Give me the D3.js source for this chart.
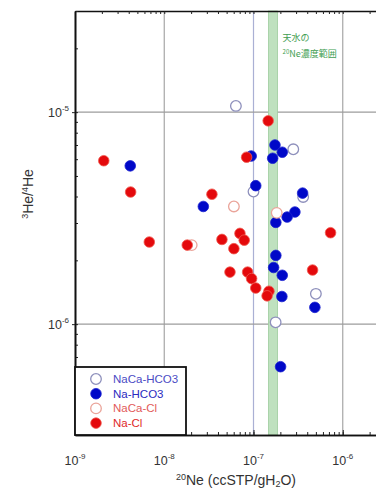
<!DOCTYPE html>
<html>
<head>
<meta charset="utf-8">
<script src="https://cdn.jsdelivr.net/npm/d3@7"></script>
<style>
  html, body { margin: 0; padding: 0; background: #fff; }
  svg { display: block; font-family: "Liberation Sans", Arial, sans-serif; }
</style>
</head>
<body>
<div id="container"></div>
<script>
// data: [20Ne (ccSTP/gH2O), 3He/4He]
const naCaHco3 = [
    [6.35e-8, 1.07e-5], [2.79e-7, 6.68e-6], [1.0e-7, 4.22e-6],
    [3.6e-7, 3.98e-6], [5.0e-7, 1.39e-6], [1.77e-7, 1.02e-6]
];
const naHco3 = [
    [4.16e-9, 5.58e-6], [2.74e-8, 3.59e-6], [1.06e-7, 4.5e-6],
    [1.74e-7, 7.0e-6], [2.1e-7, 6.47e-6], [1.64e-7, 6.06e-6],
    [9.42e-8, 6.21e-6], [3.55e-7, 4.15e-6], [2.91e-7, 3.38e-6],
    [2.38e-7, 3.2e-6], [1.78e-7, 3.02e-6], [1.78e-7, 2.11e-6],
    [1.68e-7, 1.85e-6], [2.1e-7, 1.7e-6], [2.08e-7, 1.35e-6],
    [4.87e-7, 1.2e-6], [2.01e-7, 6.3e-7]
];
const naCaCl = [
    [6.03e-8, 3.59e-6], [1.82e-7, 3.35e-6], [2.03e-8, 2.36e-6]
];
const naCl = [
    [2.1e-9, 5.9e-6], [4.2e-9, 4.2e-6], [6.8e-9, 2.44e-6],
    [1.81e-8, 2.36e-6], [3.42e-8, 4.1e-6], [4.43e-8, 2.51e-6],
    [7.05e-8, 2.68e-6], [7.87e-8, 2.49e-6], [6.03e-8, 2.27e-6],
    [5.45e-8, 1.76e-6], [8.59e-8, 1.76e-6], [9.52e-8, 1.64e-6],
    [1.06e-7, 1.48e-6], [1.49e-7, 1.43e-6], [1.42e-7, 1.36e-6],
    [1.46e-7, 9.1e-6], [8.37e-8, 6.13e-6], [4.59e-7, 1.8e-6],
    [7.3e-7, 2.7e-6]
];

const seriesNames = ['NaCa-HCO3', 'Na-HCO3', 'NaCa-Cl', 'Na-Cl'];
const xTickValues = [1e-9, 1e-8, 1e-7, 1e-6];
const xTickExponents = ['-9', '-8', '-7', '-6'];
const yTickValues = [1e-6, 1e-5];
const yTickExponents = ['-6', '-5'];
const rainWaterNe = [1.47e-7, 1.86e-7];   // 天水の20Ne濃度範囲

const width = 376, height = 488;
const margin = { left: 75, top: 11, bottom: 435, right: 432 };

const styles = [
    { fill: '#fff', stroke: '#8e90bc', text: '#4b4bc4', sw: 1.3 },
    { fill: '#0008c8', stroke: '#1a22d0', text: '#2a2ac0', sw: 0.8 },
    { fill: '#fff', stroke: '#eaa49a', text: '#e25a5a', sw: 1.3 },
    { fill: '#e4090c', stroke: '#f05a50', text: '#e02a2a', sw: 0.8 }
];

const svg = d3.select('#container').append('svg')
    .attr('width', width)
    .attr('height', height);

const x = d3.scaleLog().domain([1e-9, 1e-5]).range([margin.left, margin.right]);
const y = d3.scaleLog().domain([3e-5, 3e-7]).range([margin.top, margin.bottom]);

/* gridlines */
const grid = svg.append('g').attr('class', 'grid');
grid.selectAll('.vgrid')
    .data(xTickValues.slice(1))
    .enter().append('line')
    .attr('x1', (d) => x(d)).attr('x2', (d) => x(d))
    .attr('y1', margin.top).attr('y2', margin.bottom)
    .attr('stroke', (d) => d === 1e-7 ? '#aab0d4' : '#a6a6a6')
    .attr('stroke-width', 1.2);
grid.selectAll('.hgrid')
    .data(yTickValues)
    .enter().append('line')
    .attr('x1', margin.left).attr('x2', margin.right)
    .attr('y1', (d) => y(d)).attr('y2', (d) => y(d))
    .attr('stroke', '#9c9c9c')
    .attr('stroke-width', 1.2);

/* rain water band */
svg.append('rect')
    .attr('x', x(rainWaterNe[0]))
    .attr('width', x(rainWaterNe[1]) - x(rainWaterNe[0]))
    .attr('y', margin.top)
    .attr('height', margin.bottom - margin.top)
    .attr('fill', '#bfe1bf')
    .attr('stroke', '#9fcd9f')
    .attr('stroke-width', 0.8);

const bandLabel = svg.append('g')
    .attr('fill', '#3f9e52')
    .attr('font-family', '"Noto Sans CJK JP", sans-serif')
    .attr('font-size', 9);
bandLabel.append('text')
    .attr('x', x(rainWaterNe[1]) + 5)
    .attr('y', 41)
    .text('天水の');
const bl2 = bandLabel.append('text')
    .attr('x', x(rainWaterNe[1]) + 5)
    .attr('y', 57);
bl2.append('tspan').attr('font-size', 6).attr('dy', -3).text('20');
bl2.append('tspan').attr('dy', 3).text('Ne濃度範囲');

/* axes */
const minorX = x.ticks().filter((d) => d <= 1e-5);
const minorY = y.ticks();

const axes = svg.append('g').attr('class', 'axes').attr('stroke', '#111');
axes.append('g')
    .attr('transform', `translate(0,${margin.top})`)
    .call(d3.axisTop(x).tickValues(minorX).tickSizeInner(-3).tickSizeOuter(0).tickFormat(''));
axes.append('g')
    .attr('transform', `translate(0,${margin.bottom})`)
    .call(d3.axisBottom(x).tickValues(minorX).tickSizeInner(-3).tickSizeOuter(0).tickFormat(''));
axes.append('g')
    .attr('transform', `translate(0,${margin.bottom})`)
    .call(d3.axisBottom(x).tickValues(xTickValues).tickSizeInner(-5).tickSizeOuter(0).tickFormat(''));
axes.append('g')
    .attr('transform', `translate(${margin.left},0)`)
    .call(d3.axisLeft(y).tickValues(minorY).tickSizeInner(-3).tickSizeOuter(0).tickFormat(''));
axes.append('g')
    .attr('transform', `translate(${margin.left},0)`)
    .call(d3.axisLeft(y).tickValues(yTickValues).tickSizeInner(3).tickSizeOuter(0).tickFormat(''));
axes.selectAll('.domain').attr('stroke', '#111').attr('stroke-width', 1.6);
axes.selectAll('.tick line').attr('stroke', '#222').attr('stroke-width', 1);

/* tick labels */
const labels = svg.append('g').attr('fill', '#333').attr('font-size', 12.5);
xTickValues.forEach((v, i) => {
    const t = labels.append('text')
        .attr('x', x(v))
        .attr('y', 465)
        .attr('text-anchor', 'middle');
    t.append('tspan').text('10');
    t.append('tspan').attr('font-size', 8).attr('dy', -6).text(xTickExponents[i]);
});
yTickValues.forEach((v, i) => {
    const t = labels.append('text')
        .attr('x', 69)
        .attr('y', y(v) + 5)
        .attr('text-anchor', 'end');
    t.append('tspan').text('10');
    t.append('tspan').attr('font-size', 8).attr('dy', -6).text(yTickExponents[i]);
});

/* axis titles */
const xTitle = svg.append('text')
    .attr('x', 236)
    .attr('y', 485)
    .attr('text-anchor', 'middle')
    .attr('fill', '#333')
    .attr('font-size', 14);
xTitle.append('tspan').attr('font-size', 9).attr('dy', -5).text('20');
xTitle.append('tspan').attr('dy', 5).text('Ne (ccSTP/gH');
xTitle.append('tspan').attr('font-size', 9).attr('dy', 2).text('2');
xTitle.append('tspan').attr('dy', -2).text('O)');

const yTitle = svg.append('text')
    .attr('transform', 'translate(33,194) rotate(-90)')
    .attr('text-anchor', 'middle')
    .attr('fill', '#333')
    .attr('font-size', 14);
yTitle.append('tspan').attr('font-size', 9).attr('dy', -5).text('3');
yTitle.append('tspan').attr('dy', 5).text('He/');
yTitle.append('tspan').attr('font-size', 9).attr('dy', -5).text('4');
yTitle.append('tspan').attr('dy', 5).text('He');

/* points */
const allSeries = [naCaHco3, naHco3, naCaCl, naCl];
const points = svg.append('g').attr('class', 'points');
allSeries.forEach((data, i) => {
    points.append('g')
        .selectAll('circle')
        .data(data)
        .enter().append('circle')
        .attr('cx', (d) => x(d[0]))
        .attr('cy', (d) => y(d[1]))
        .attr('r', 5.3)
        .attr('fill', styles[i].fill)
        .attr('stroke', styles[i].stroke)
        .attr('stroke-width', styles[i].sw);
});

/* legend */
const legend = svg.append('g').attr('class', 'legend');
legend.append('rect')
    .attr('x', margin.left)
    .attr('y', 367)
    .attr('width', 111)
    .attr('height', margin.bottom - 367)
    .attr('fill', '#fff')
    .attr('stroke', '#111')
    .attr('stroke-width', 1.8);
const rows = legend.selectAll('.row')
    .data(seriesNames)
    .enter().append('g')
    .attr('transform', (d, i) => `translate(0,${379 + i * 14.7})`);
rows.append('circle')
    .attr('cx', 96)
    .attr('r', 5.3)
    .attr('fill', (d, i) => styles[i].fill)
    .attr('stroke', (d, i) => styles[i].stroke)
    .attr('stroke-width', (d, i) => styles[i].sw);
rows.append('text')
    .attr('x', 113)
    .attr('y', 4)
    .attr('font-size', 11.5)
    .attr('fill', (d, i) => styles[i].text)
    .text((d) => d);
</script>
</body>
</html>
